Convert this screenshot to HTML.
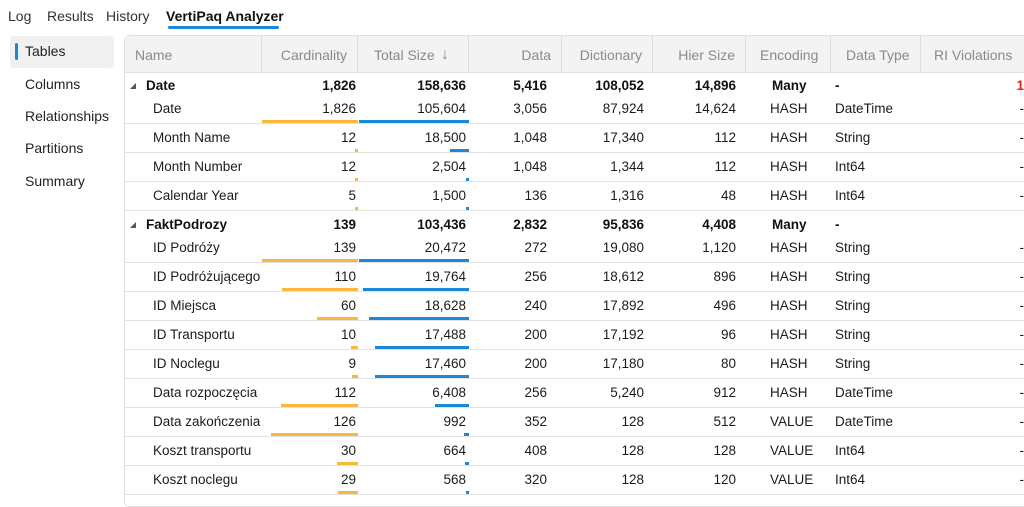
<!DOCTYPE html>
<html><head><meta charset="utf-8">
<style>
html,body{margin:0;padding:0;background:#fff;width:1024px;height:493px;overflow:hidden;font-family:"Liberation Sans",sans-serif;color:#1b1b1b}
.abs{position:absolute}
.tab{position:absolute;top:8px;font-size:14px;color:#333}
.side{position:absolute;left:25px;font-size:14px;color:#222}
.hdr{position:absolute;top:36px;height:36px;line-height:38px;font-size:14px;color:#8a8a8a;box-sizing:border-box;padding:0 10px;border-right:1px solid #dcdcdc}
.cell{position:absolute;font-size:13.5px;white-space:nowrap;line-height:18px}
.r{text-align:right}
.b{font-weight:bold;color:#111}
</style></head><body>
<div class="tab" style="left:8px">Log</div>
<div class="tab" style="left:47px">Results</div>
<div class="tab" style="left:106px">History</div>
<div class="tab" style="left:166px;font-weight:bold;color:#111">VertiPaq Analyzer</div>
<div class="abs" style="left:168px;top:26px;width:111px;height:3px;background:#1e88d8;border-radius:2px"></div>

<div class="abs" style="left:10px;top:36px;width:104px;height:32px;background:#f1f1f1;border-radius:4px"></div>
<div class="abs" style="left:15px;top:43px;width:3px;height:17px;background:#1e88d8;border-radius:2px"></div>
<div class="side" style="top:43px">Tables</div>
<div class="side" style="top:76px">Columns</div>
<div class="side" style="top:108px">Relationships</div>
<div class="side" style="top:140px">Partitions</div>
<div class="side" style="top:173px">Summary</div>

<div class="abs" style="left:124px;top:35px;width:910px;height:470px;border:1px solid #e0e0e0;border-radius:5px"></div>
<div class="abs" style="left:125px;top:36px;width:900px;height:36px;background:#f3f3f3;border-bottom:1px solid #e0e0e0"></div>
<div class="hdr" style="left:125px;width:137px">Name</div>
<div class="hdr r" style="left:262px;width:96px">Cardinality</div>
<div class="hdr" style="left:358px;width:111px;padding-left:16px">Total Size <span style="position:absolute;left:83px;font-size:16px">&#8595;</span></div>
<div class="hdr r" style="left:469px;width:93px">Data</div>
<div class="hdr r" style="left:562px;width:91px">Dictionary</div>
<div class="hdr r" style="left:653px;width:93px">Hier Size</div>
<div class="hdr" style="left:746px;width:85px;padding-left:14px">Encoding</div>
<div class="hdr" style="left:831px;width:90px;padding-left:15px">Data Type</div>
<div class="hdr" style="left:921px;width:110px;padding-left:13px">RI Violations</div>

<div id="rows"></div>
<script>
const groupNames=["Date","FaktPodrozy"];
const groupCard=["1,826","139"];
const groupTotal=["158,636","103,436"];
const groupData=["5,416","2,832"];
const groupDict=["108,052","95,836"];
const groupHier=["14,896","4,408"];
const groupRI=["1",""];
const colGroup=[0,0,0,0,1,1,1,1,1,1,1,1,1];
const colNames=["Date","Month Name","Month Number","Calendar Year","ID Podróży","ID Podróżującego","ID Miejsca","ID Transportu","ID Noclegu","Data rozpoczęcia","Data zakończenia","Koszt transportu","Koszt noclegu"];
const cardinality=[1826,12,12,5,139,110,60,10,9,112,126,30,29];
const totalSize=[105604,18500,2504,1500,20472,19764,18628,17488,17460,6408,992,664,568];
const dataSize=[3056,1048,1048,136,272,256,240,200,200,256,352,408,320];
const dictSize=[87924,17340,1344,1316,19080,18612,17892,17192,17180,5240,128,128,128];
const hierSize=[14624,112,112,48,1120,896,496,96,80,912,512,128,120];
const encoding=["HASH","HASH","HASH","HASH","HASH","HASH","HASH","HASH","HASH","HASH","VALUE","VALUE","VALUE"];
const dataType=["DateTime","String","Int64","Int64","String","String","String","String","String","DateTime","DateTime","Int64","Int64"];

const root=document.getElementById('rows');
const fmt=v=>v.toLocaleString('en-US');
function cell(txt,x,w,cy,cls,name){
  const d=document.createElement('div');
  d.className='cell '+(cls||'');
  d.style.left=x+'px';d.style.width=w+'px';d.style.top=(cy-9)+'px';
  d.textContent=txt;
  
  
  root.appendChild(d);return d;
}
function box(x,y,w,h,bg,name){
  const d=document.createElement('div');
  d.className='abs';
  d.style.cssText+=`left:${x}px;top:${y}px;width:${w}px;height:${h}px;background:${bg}`;
  
  
  root.appendChild(d);return d;
}
function cardX(v,max){const w=Math.max(3,96*v/max);return [358-w,w];}
function sizeX(v,max){const w=Math.max(3,110*v/max);return [469-w,w];}

let y=72;
groupNames.forEach((g,gi)=>{
  const gc=y+(gi===0?14:15);
  const tri=box(130,gc-3,0,0,'transparent','collapse-toggle');
  tri.style.borderLeft='6px solid transparent';tri.style.borderBottom='6px solid #555';
  
  cell(g,146,110,gc,'b','group-name');
  cell(groupCard[gi],262,94,gc,'r b','group-cardinality');
  cell(groupTotal[gi],358,108,gc,'r b','group-total-size');
  cell(groupData[gi],469,78,gc,'r b','group-data');
  cell(groupDict[gi],562,82,gc,'r b','group-dictionary');
  cell(groupHier[gi],653,83,gc,'r b','group-hier-size');
  cell('Many',772,60,gc,'b','group-encoding');
  cell('-',835,40,gc,'b','group-data-type');
  const ri=cell(groupRI[gi],1000,24,gc,'r b','group-ri-violations');
  ri.style.color='#e0241b';
  let line=gc+37;
  const idx=colNames.map((n,i)=>i).filter(i=>colGroup[i]===gi);
  const maxC=Math.max(...idx.map(i=>cardinality[i]));
  const maxT=Math.max(...idx.map(i=>totalSize[i]));
  idx.forEach((i,k)=>{
    if(k>0) line+=29;
    const cy=line-14.5;
    cell(colNames[i],153,110,cy,'','column-name');
    cell(fmt(cardinality[i]),262,94,cy,'r','cardinality-value');
    cell(fmt(totalSize[i]),358,108,cy,'r','total-size-value');
    cell(fmt(dataSize[i]),469,78,cy,'r','data-value');
    cell(fmt(dictSize[i]),562,82,cy,'r','dictionary-value');
    cell(fmt(hierSize[i]),653,83,cy,'r','hier-size-value');
    cell(encoding[i],770,50,cy,'','encoding-value');
    cell(dataType[i],835,80,cy,'','data-type-value');
    cell('-',1000,24,cy,'r','ri-violations-value');
    box(125,line,900,1,'#e2e2e2','row-separator');
    const [cx,cw]=cardX(cardinality[i],maxC);
    box(cx,line-3,cw,3,'#fbb63f','cardinality-bar');
    const [tx,tw]=sizeX(totalSize[i],maxT);
    box(tx,line-3,tw,3,'#1e88d8','total-size-bar');
  });
  y=line;
});
</script>
</body></html>
